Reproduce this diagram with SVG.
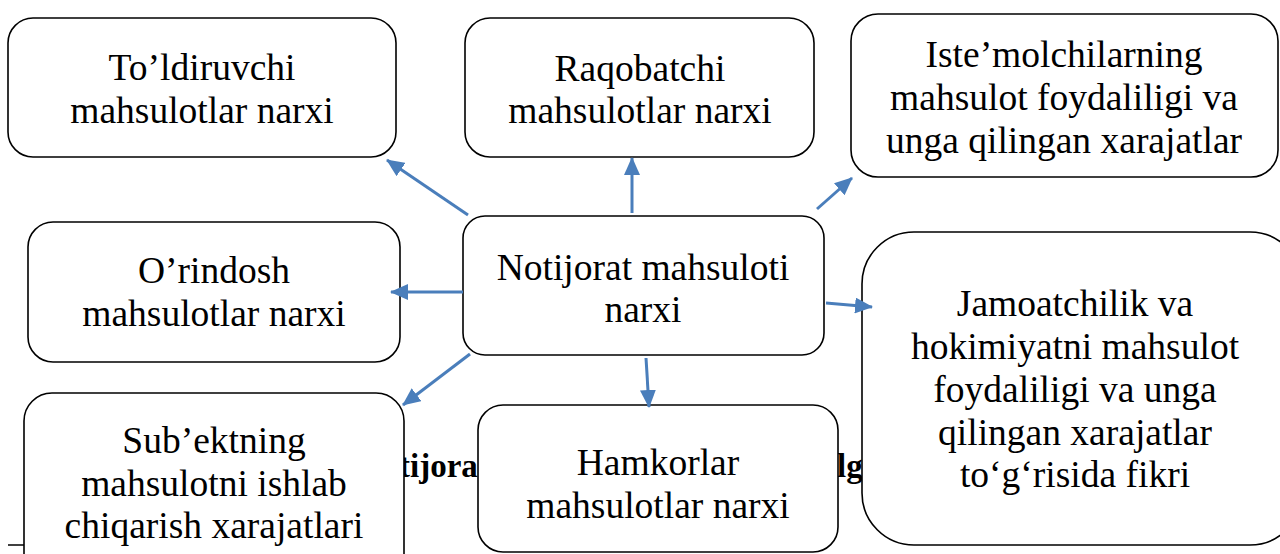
<svg xmlns="http://www.w3.org/2000/svg" width="1280" height="554" viewBox="0 0 1280 554">
<style>
.box{fill:#fff;stroke:#000;stroke-width:1.6}
.t{font-family:'Liberation Serif','Times New Roman',serif;font-size:37.5px;fill:#000;text-anchor:middle}
.b{font-family:'Liberation Serif','Times New Roman',serif;font-size:33px;font-weight:bold;fill:#000}
.c{stroke:#4a7ebb;stroke-width:3;fill:none;marker-end:url(#ah)}
</style>
<defs>
<marker id="ah" markerUnits="userSpaceOnUse" markerWidth="18" markerHeight="16" viewBox="0 0 18 16" refX="17" refY="8" orient="auto">
<path d="M0,0 L18,8 L0,16 Z" fill="#4a7ebb"/>
</marker>
</defs>
<rect width="1280" height="554" fill="#fff"/>
<g id="caption">
<text class="b" x="399" y="477">tijora</text>
<text class="b" x="837" y="477">lg</text>
<line x1="8" y1="545" x2="24" y2="545" stroke="#000" stroke-width="1.5"/>
</g>
<g id="n1"><rect class="box" x="8" y="18" width="388" height="139" rx="25"/>
<text class="t" x="202" y="80">To’ldiruvchi</text><text class="t" x="202" y="123">mahsulotlar narxi</text></g>
<g id="n2"><rect class="box" x="465" y="18" width="349" height="139" rx="25"/>
<text class="t" x="640" y="81">Raqobatchi</text><text class="t" x="640" y="123">mahsulotlar narxi</text></g>
<g id="n3"><rect class="box" x="851" y="14" width="427" height="163" rx="27"/>
<text class="t" x="1064" y="67">Iste’molchilarning</text><text class="t" x="1064" y="110">mahsulot foydaliligi va</text><text class="t" x="1064" y="153">unga qilingan xarajatlar</text></g>
<g id="n4"><rect class="box" x="28" y="222" width="372" height="140" rx="25"/>
<text class="t" x="214" y="283">O’rindosh</text><text class="t" x="214" y="326">mahsulotlar narxi</text></g>
<g id="n5"><rect class="box" x="463" y="216" width="361" height="139" rx="22"/>
<text class="t" x="643" y="280">Notijorat mahsuloti</text><text class="t" x="643" y="322">narxi</text></g>
<g id="n6"><rect class="box" x="862" y="232" width="440" height="313" rx="52"/>
<text class="t" x="1075" y="316">Jamoatchilik va</text><text class="t" x="1075" y="359">hokimiyatni mahsulot</text><text class="t" x="1075" y="402">foydaliligi va unga</text><text class="t" x="1075" y="445">qilingan xarajatlar</text><text class="t" x="1075" y="487">to‘g‘risida fikri</text></g>
<g id="n7"><rect class="box" x="24" y="393" width="380" height="200" rx="28"/>
<text class="t" x="214" y="453">Sub’ektning</text><text class="t" x="214" y="496">mahsulotni ishlab</text><text class="t" x="214" y="538">chiqarish xarajatlari</text></g>
<g id="n8"><rect class="box" x="478" y="405" width="360" height="147" rx="25"/>
<text class="t" x="658" y="475">Hamkorlar</text><text class="t" x="658" y="518">mahsulotlar narxi</text></g>
<g id="connectors">
<line class="c" x1="468" y1="215" x2="387" y2="160"/>
<line class="c" x1="632" y1="213" x2="632" y2="158"/>
<line class="c" x1="817" y1="209" x2="852" y2="178"/>
<line class="c" x1="463" y1="292" x2="391" y2="292"/>
<line class="c" x1="826" y1="303" x2="872" y2="307"/>
<line class="c" x1="470" y1="354" x2="403" y2="405"/>
<line class="c" x1="646" y1="358" x2="649" y2="407"/>
</g>
</svg>
